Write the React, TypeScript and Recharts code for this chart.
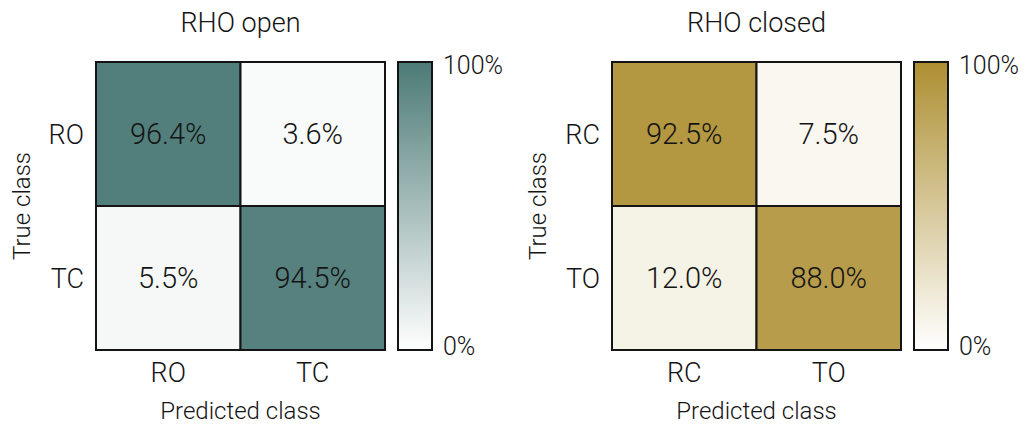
import { BarChart, Bar, XAxis, YAxis, Cell, LabelList } from "recharts";

const openClasses = ["RO", "TC"];
const openMatrix = [
  [96.4, 3.6],
  [5.5, 94.5],
];

const closedClasses = ["RC", "TO"];
const closedMatrix = [
  [92.5, 7.5],
  [12.0, 88.0],
];

const colorbarTicks = [0, 100];

const FONT = "Roboto, 'DejaVu Sans', sans-serif";
const INK = "#141414";
const TEAL = [76, 122, 118];
const GOLD = [173, 143, 50];

// linear blend from white to the full colour
const mix = (rgb: number[], pct: number) => {
  const t = pct / 100;
  const c = rgb.map((v) => Math.round(255 + (v - 255) * t));
  return `rgb(${c.join(",")})`;
};

type MatrixProps = { classes: string[]; values: number[][]; rgb: number[] };

const Matrix = ({ classes, values, rgb }: MatrixProps) => {
  const rows = classes.map((name, i) => {
    const row: Record<string, number | string> = { name };
    classes.forEach((_, j) => {
      row[`c${j}`] = 1;
      row[`p${j}`] = values[i][j];
    });
    return row;
  });

  return (
    <BarChart
      width={400}
      height={427}
      data={rows}
      layout="vertical"
      margin={{ top: 62, right: 15, bottom: 0, left: 0 }}
      barCategoryGap={0}
      barGap={0}
    >
      <XAxis
        type="number"
        domain={[0, classes.length]}
        ticks={classes.map((_, i) => i + 0.5)}
        tickFormatter={(v: number) => classes[Math.floor(v)]}
        interval={0}
        height={77}
        axisLine={false}
        tickLine={false}
        tickSize={0}
        tickMargin={13}
        tick={{ fill: INK, fontSize: 27 }}
        label={{ value: "Predicted class", position: "insideBottom", offset: 8, fontSize: 24, fill: INK }}
      />
      <YAxis
        type="category"
        dataKey="name"
        width={96}
        axisLine={false}
        tickLine={false}
        tickSize={0}
        tickMargin={12}
        tick={{ fill: INK, fontSize: 27 }}
        label={{
          value: "True class",
          angle: -90,
          position: "insideLeft",
          offset: 21,
          fontSize: 24,
          fill: INK,
          style: { textAnchor: "middle" },
        }}
      />
      {classes.map((_, j) => (
        <Bar key={j} dataKey={`c${j}`} stackId="cm" stroke={INK} strokeWidth={2} isAnimationActive={false}>
          {rows.map((_, i) => (
            <Cell key={i} fill={mix(rgb, values[i][j])} />
          ))}
          <LabelList
            dataKey={`p${j}`}
            position="center"
            formatter={(v: number) => `${Number(v).toFixed(1)}%`}
            fill={INK}
            fontSize={29}
          />
        </Bar>
      ))}
    </BarChart>
  );
};

// colour bar end labels sit a little inside the bar ends
const ColorbarTick = (props: any) => {
  const { x, y, payload } = props;
  const shift = payload.value >= 100 ? 3 : -4;
  return (
    <text x={x} y={y + shift} dy="0.355em" textAnchor="start" fill={INK} fontSize={25}>
      {`${payload.value}%`}
    </text>
  );
};

const Colorbar = ({ id, rgb }: { id: string; rgb: number[] }) => (
  <BarChart
    width={122}
    height={427}
    data={[{ v: 100 }]}
    margin={{ top: 62, right: 0, bottom: 77, left: 8 }}
    barCategoryGap={0}
  >
    <defs>
      <linearGradient id={id} x1="0" y1="1" x2="0" y2="0">
        <stop offset="0%" stopColor="#ffffff" />
        <stop offset="100%" stopColor={mix(rgb, 100)} />
      </linearGradient>
    </defs>
    <XAxis hide />
    <YAxis
      orientation="right"
      domain={[0, 100]}
      ticks={colorbarTicks}
      width={80}
      axisLine={false}
      tickLine={false}
      tickSize={0}
      tickMargin={11}
      tick={<ColorbarTick />}
    />
    <Bar dataKey="v" fill={`url(#${id})`} stroke={INK} strokeWidth={2} isAnimationActive={false} />
  </BarChart>
);

const Title = ({ text, left }: { text: string; left: number }) => (
  <div
    style={{
      position: "absolute",
      left,
      top: 10,
      width: 289,
      textAlign: "center",
      fontSize: 27,
      lineHeight: "27px",
      color: INK,
    }}
  >
    {text}
  </div>
);

export default function App() {
  return (
    <div
      style={{
        position: "absolute",
        left: 0,
        top: 0,
        width: 1028,
        height: 427,
        background: "#fff",
        fontFamily: FONT,
        fontWeight: 300,
      }}
    >
      <Title text="RHO open" left={96} />
      <Title text="RHO closed" left={612} />
      <div style={{ position: "absolute", left: 0, top: 0 }}>
        <Matrix classes={openClasses} values={openMatrix} rgb={TEAL} />
      </div>
      <div style={{ position: "absolute", left: 390, top: 0 }}>
        <Colorbar id="cbOpen" rgb={TEAL} />
      </div>
      <div style={{ position: "absolute", left: 516, top: 0 }}>
        <Matrix classes={closedClasses} values={closedMatrix} rgb={GOLD} />
      </div>
      <div style={{ position: "absolute", left: 906, top: 0 }}>
        <Colorbar id="cbClosed" rgb={GOLD} />
      </div>
    </div>
  );
}
